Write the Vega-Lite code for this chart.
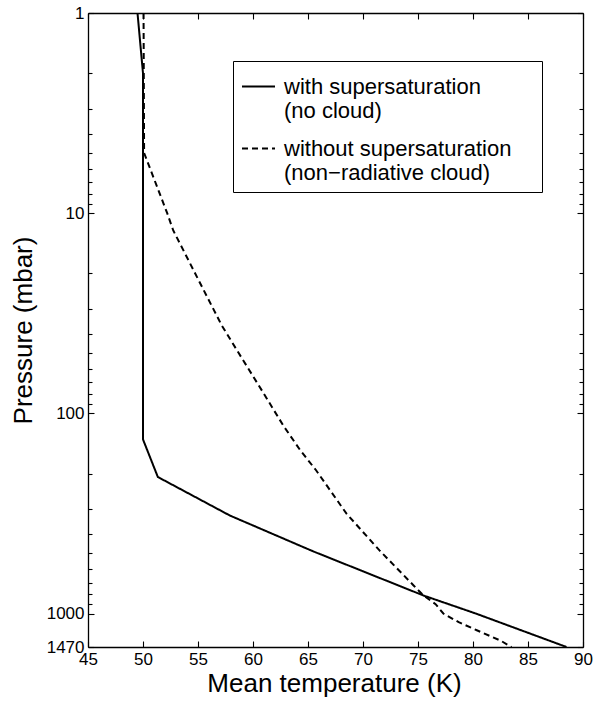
{
  "$schema": "https://vega.github.io/schema/vega-lite/v6.json",
  "width": 495,
  "height": 634,
  "autosize": "none",
  "padding": {"left": 88, "top": 13, "right": 14, "bottom": 55},
  "background": "white",
  "config": {
    "font": "Liberation Sans",
    "view": {"stroke": null},
    "axis": {
      "domainColor": "black", "tickColor": "black", "labelColor": "black", "titleColor": "black",
      "grid": false, "labelFont": "Liberation Sans", "titleFont": "Liberation Sans",
      "labelFontSize": 17, "titleFontSize": 26, "titleFontWeight": "normal",
      "domainWidth": 1.3, "tickWidth": 1.1, "labelFlush": false, "labelOverlap": false
    }
  },
  "datasets": {
    "profiles": [
      {"series": "with", "p": 1, "T": 49.5},
      {"series": "with", "p": 2, "T": 50.0},
      {"series": "with", "p": 135, "T": 50.0},
      {"series": "with", "p": 208, "T": 51.35},
      {"series": "with", "p": 324, "T": 57.9},
      {"series": "with", "p": 490, "T": 65.5},
      {"series": "with", "p": 813, "T": 75.5},
      {"series": "with", "p": 1000, "T": 80.25},
      {"series": "with", "p": 1470, "T": 88.5},
      {"series": "without", "p": 1, "T": 50.05},
      {"series": "without", "p": 5, "T": 50.1},
      {"series": "without", "p": 10, "T": 52.2},
      {"series": "without", "p": 12.2, "T": 52.75},
      {"series": "without", "p": 20.8, "T": 54.9},
      {"series": "without", "p": 36.3, "T": 57.15},
      {"series": "without", "p": 50, "T": 58.7},
      {"series": "without", "p": 80, "T": 61.0},
      {"series": "without", "p": 115, "T": 62.75},
      {"series": "without", "p": 153, "T": 64.3},
      {"series": "without", "p": 193, "T": 65.75},
      {"series": "without", "p": 317, "T": 68.5},
      {"series": "without", "p": 484, "T": 71.5},
      {"series": "without", "p": 724, "T": 74.6},
      {"series": "without", "p": 813, "T": 75.5},
      {"series": "without", "p": 898, "T": 76.6},
      {"series": "without", "p": 1000, "T": 77.3},
      {"series": "without", "p": 1105, "T": 78.7},
      {"series": "without", "p": 1216, "T": 80.4},
      {"series": "without", "p": 1365, "T": 82.5},
      {"series": "without", "p": 1470, "T": 83.5}
    ]
  },
  "layer": [
    {
      "data": {"name": "profiles"},
      "mark": {"type": "line", "color": "black", "strokeWidth": 2, "clip": true},
      "encoding": {
        "x": {
          "field": "T", "type": "quantitative",
          "scale": {"domain": [45, 90], "nice": false, "zero": false},
          "axis": {
            "orient": "bottom",
            "values": [45, 50, 55, 60, 65, 70, 75, 80, 85, 90],
            "tickSize": -6, "labelPadding": 10,
            "title": "Mean temperature (K)",
            "titleX": 246, "titleY": 44, "titleBaseline": "alphabetic", "titleAlign": "center"
          }
        },
        "y": {
          "field": "p", "type": "quantitative",
          "scale": {"type": "log", "domain": [1, 1470], "reverse": true, "nice": false},
          "axis": {
            "orient": "left",
            "values": [1, 2, 3, 4, 5, 6, 7, 8, 9, 10, 20, 30, 40, 50, 60, 70, 80, 90, 100, 200, 300, 400, 500, 600, 700, 800, 900, 1000, 1470],
            "labelExpr": "indexof([1, 10, 100, 1000, 1470], datum.value) >= 0 ? datum.value : ''",
            "tickSize": {"condition": {"test": "indexof([1, 10, 100, 1000, 1470], datum.value) >= 0", "value": -6}, "value": -4},
            "labelPadding": 10,
            "title": "Pressure (mbar)",
            "titleX": -57, "titleY": 317, "titleAngle": 270, "titleBaseline": "alphabetic", "titleAlign": "center"
          }
        },
        "strokeDash": {
          "field": "series", "type": "nominal",
          "scale": {"domain": ["with", "without"], "range": [[1, 0], [6, 4]]},
          "legend": {
            "orient": "none", "legendX": 145, "legendY": 48,
            "title": null,
            "strokeColor": "black", "fillColor": "white", "cornerRadius": 0,
            "padding": 8,
            "symbolType": "stroke", "symbolSize": 1089, "symbolStrokeWidth": 2, "symbolStrokeColor": "black",
            "labelFont": "Liberation Sans", "labelFontSize": 22, "labelColor": "black",
            "labelBaseline": "middle",
            "labelOffset": 8, "labelLimit": 0, "rowPadding": 9,
            "labelExpr": "datum.label == 'with' ? ['with supersaturation', '(no cloud)'] : ['without supersaturation\u00a0\u2800', '(non\u2212radiative cloud)']"
          }
        },
        "order": {"field": "p", "type": "quantitative"}
      }
    },
    {
      "data": {"name": "profiles"},
      "mark": {"type": "line", "opacity": 0},
      "encoding": {
        "x": {
          "field": "T", "type": "quantitative",
          "axis": {
            "orient": "top", "values": [45, 50, 55, 60, 65, 70, 75, 80, 85, 90],
            "tickSize": -6, "labels": false, "title": null
          }
        },
        "y": {
          "field": "p", "type": "quantitative",
          "axis": {
            "orient": "right",
            "values": [1, 2, 3, 4, 5, 6, 7, 8, 9, 10, 20, 30, 40, 50, 60, 70, 80, 90, 100, 200, 300, 400, 500, 600, 700, 800, 900, 1000, 1470],
            "tickSize": {"condition": {"test": "indexof([1, 10, 100, 1000, 1470], datum.value) >= 0", "value": -6}, "value": -4},
            "labels": false, "title": null
          }
        },
        "detail": {"field": "series"},
        "order": {"field": "p", "type": "quantitative"}
      }
    }
  ],
  "resolve": {"axis": {"x": "independent", "y": "independent"}}
}
